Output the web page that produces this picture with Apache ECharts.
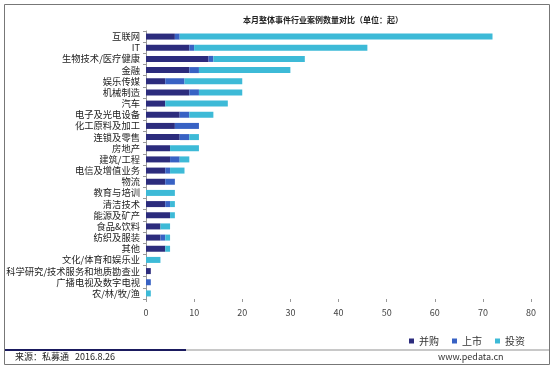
<!DOCTYPE html>
<html>
<head>
<meta charset="utf-8">
<script src="https://cdn.jsdelivr.net/npm/echarts@6/dist/echarts.min.js"></script>
<style>
html,body{margin:0;padding:0;background:#fff;}
#c{width:553px;height:369px;}
</style>
</head>
<body>
<div id="c"></div>
<script>
const categories = ["互联网","IT","生物技术/医疗健康","金融","娱乐传媒","机械制造","汽车","电子及光电设备","化工原料及加工","连锁及零售","房地产","建筑/工程","电信及增值业务","物流","教育与培训","清洁技术","能源及矿产","食品&饮料","纺织及服装","其他","文化/体育和娱乐业","科学研究/技术服务和地质勘查业","广播电视及数字电视","农/林/牧/渔"];
const mergers = [6,9,13,9,4,9,4,7,6,7,5,5,4,4,0,4,5,3,3,4,0,1,0,0];
const ipos    = [1,1,1,2,4,2,0,2,5,2,0,2,1,2,0,1,0,0,1,0,0,0,1,0];
const invests = [65,36,19,19,12,9,13,5,0,2,6,2,3,0,6,1,1,2,1,1,3,0,0,1];
const xTicks = [0,10,20,30,40,50,60,70,80];
const seriesNames = ["并购","上市","投资"];
const colors = ["#2c2c7d","#3862c4","#3dbad7"];

const chart = echarts.init(document.getElementById('c'));
const font = "'Noto Sans CJK SC', sans-serif";
const dataSets = [mergers, ipos, invests];
chart.setOption({
  animation:false,
  textStyle:{fontFamily:font},
  title:{text:"本月整体事件行业案例数量对比（单位：起）",left:318,top:11,textAlign:'center',
    textStyle:{fontSize:8,fontWeight:'bold',color:'#222',fontFamily:font}},
  legend:{data:seriesNames,left:404,top:331,itemWidth:5,itemHeight:5,itemGap:13,icon:'rect',
    textStyle:{fontSize:10,color:'#333',fontFamily:font}},
  grid:{left:146,right:22,top:31,bottom:70,containLabel:false,outerBoundsMode:'none'},
  xAxis:{type:'value',min:xTicks[0],max:xTicks[xTicks.length-1],interval:10,
    axisLine:{show:false},axisTick:{show:true,length:3,lineStyle:{color:'#999'}},
    splitLine:{show:false},
    axisLabel:{fontSize:9,color:'#444',margin:9,fontFamily:font}},
  yAxis:{type:'category',data:categories,inverse:true,
    axisLine:{show:true,lineStyle:{color:'#999'}},
    axisTick:{show:true,length:3,lineStyle:{color:'#999'}},
    axisLabel:{interval:0,fontSize:9.3,color:'#222',margin:6,fontFamily:font}},
  series:seriesNames.map((n,i)=>({name:n,type:'bar',stack:'s',barWidth:6,
    itemStyle:{color:colors[i]},data:dataSets[i]})),
  graphic:[
    {type:'rect',shape:{x:4.5,y:4.5,width:545,height:360},style:{fill:'none',stroke:'#777',lineWidth:1},silent:true},
    {type:'rect',shape:{x:5,y:349,width:181,height:2},style:{fill:'#1a1a5e'},silent:true},
    {type:'rect',shape:{x:186,y:349,width:363,height:2},style:{fill:'#c8c8c8'},silent:true},
    {type:'text',left:15,top:352,style:{text:"来源：私募通   2016.8.26",fontSize:9,fill:'#222',fontFamily:font}},
    {type:'text',left:438,top:352,style:{text:"www.pedata.cn",fontSize:9,fill:'#333',fontFamily:font}}
  ]
});
</script>
</body>
</html>
